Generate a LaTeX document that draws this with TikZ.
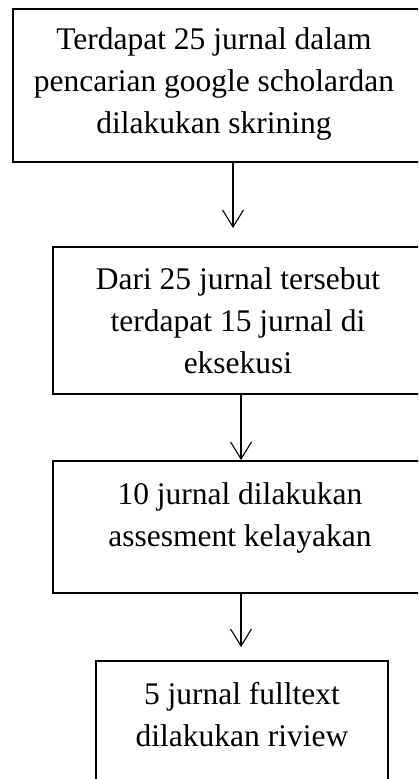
\documentclass[tikz,border=0pt]{standalone}
\usepackage{fontspec}
\setmainfont{Liberation Serif}
\usepackage{xcolor}
\usetikzlibrary{arrows.meta}
\definecolor{inkc}{HTML}{000000}

\begin{document}
\begin{tikzpicture}[x=1pt,y=-1pt,
  frame/.style={draw=inkc,line width=2.6pt,inner sep=0pt,outer sep=0pt,
                anchor=north west},
  txt/.style={font=\fontsize{31.5}{42}\selectfont,align=center,inner sep=0pt,
              anchor=north,text=inkc},
  arr/.style={draw=inkc,line width=1.1pt,
              -{Straight Barb[length=17pt,width=21pt,line width=1.1pt]}},
]
\useasboundingbox (0,0) rectangle (418,779);
\clip (0,0) rectangle (418,779);

% ---------- frames ----------
\node[frame,minimum width=440pt,minimum height=153pt] (b1) at (13,9) {};
\node[frame,minimum width=376pt,minimum height=147pt] (b2) at (53,247) {};
\node[frame,minimum width=376pt,minimum height=132pt] (b3) at (53,461) {};
\node[frame,minimum width=292pt,minimum height=140pt] (b4) at (96,661) {};

% ---------- texts ----------
\node[txt] (t1) at (214,27)
  {Terdapat 25 jurnal dalam\\pencarian google scholardan\\dilakukan skrining};
\node[txt] (t2) at (238,267)
  {Dari 25 jurnal tersebut\\terdapat 15 jurnal di\\eksekusi};
\node[txt] (t3) at (240,482) {10 jurnal dilakukan\\assesment kelayakan};
\node[txt] (t4) at (242,682) {5 jurnal fulltext\\dilakukan riview};

% ---------- arrows ----------
\draw[arr,shorten >=19pt] (b1.south) -- (b1.south |- b2.north);
\draw[arr,shorten >=1pt] (b2.south) -- (b2.south |- b3.north);
\draw[arr,shorten >=14pt] (b3.south) -- (b3.south |- b4.north);
\end{tikzpicture}
\end{document}
